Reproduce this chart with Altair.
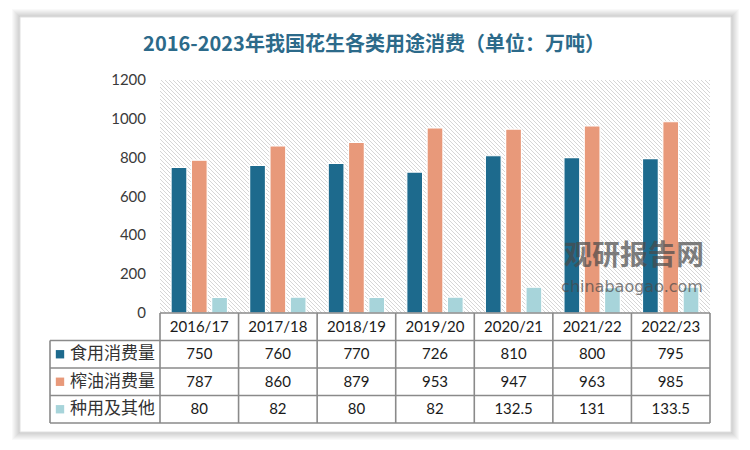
import altair as alt
import pandas as pd
import numpy as np

# ---- data ----
cats = ["2016/17", "2017/18", "2018/19", "2019/20", "2020/21", "2021/22", "2022/23"]
series = ["食用消费量", "榨油消费量", "种用及其他"]
food = [750, 760, 770, 726, 810, 800, 795]
oil = [787, 860, 879, 953, 947, 963, 985]
seed = [80, 82, 80, 82, 132.5, 131, 133.5]
colors = ["#1d6a8d", "#e8997a", "#a7d4da"]
y_ticks = [0, 200, 400, 600, 800, 1000, 1200]
title_text = "2016-2023年我国花生各类用途消费（单位：万吨）"

# ---- layout constants (pixels, relative to plot origin) ----
W, H_BAR, H_TAB = 550, 233, 110
H = H_BAR + H_TAB
LABEL_W = 110

rows = []
for si, (s, vals) in enumerate(zip(series, [food, oil, seed])):
    for c, v in zip(cats, vals):
        rows.append({"cat": c, "series": s, "value": v, "row": si + 1.5,
                     "label": f"{v:g}"})
df = pd.DataFrame(rows)

x_enc = alt.X("cat:N", sort=cats, axis=None,
              scale=alt.Scale(paddingInner=0, paddingOuter=0))
y_bar = alt.Scale(domain=[0, 1200], range=[H_BAR, 0])
y_tab = alt.Scale(domain=[0, 4], range=[H_BAR, H])
color_enc = alt.Color("series:N", scale=alt.Scale(domain=series, range=colors), legend=None)

# card with soft shadow
cx0, cx1, cy0, cy1 = -140, 571, -63, 352
shadow = pd.DataFrame([{"x": cx0 - k, "x2": cx1 + k, "y": cy0 - k, "y2": cy1 + k}
                       for k in range(1, 9)])
shadow_layer = alt.Chart(shadow).mark_rect(fill="#000000", opacity=0.025).encode(
    x=alt.X("x:Q", scale=None), x2="x2:Q",
    y=alt.Y("y:Q", scale=None), y2="y2:Q")
card = alt.Chart(pd.DataFrame([{"x": cx0, "x2": cx1, "y": cy0, "y2": cy1}])).mark_rect(
    fill="white", stroke="#e0e0e0", strokeWidth=1).encode(
    x=alt.X("x:Q", scale=None), x2="x2:Q",
    y=alt.Y("y:Q", scale=None), y2="y2:Q")

# hatched background of the plot area (diagonal "\" lines, clipped to rect)
hl = []
for c in np.arange(-H_BAR + 2, W, 4):
    if c >= 0:
        xs, ys = c, 0
    else:
        xs, ys = 0, -c
    if c + H_BAR <= W:
        xe, ye = c + H_BAR, H_BAR
    else:
        xe, ye = W, W - c
    hl.append({"x": xs, "y": ys, "x2": xe, "y2": ye})
hatch = alt.Chart(pd.DataFrame(hl)).mark_rule(color="#d6d6d6", strokeWidth=1).encode(
    x=alt.X("x:Q", scale=None), x2="x2:Q",
    y=alt.Y("y:Q", scale=None), y2="y2:Q")

bars = alt.Chart(df).mark_bar(stroke="white", strokeWidth=1.2).encode(
    x=x_enc,
    xOffset=alt.XOffset("series:N", sort=series,
                        scale=alt.Scale(paddingInner=0.22, paddingOuter=0.545)),
    y=alt.Y("value:Q", scale=y_bar, axis=None),
    color=color_enc,
)

# y tick labels
ylab = alt.Chart(pd.DataFrame({"v": y_ticks})).mark_text(
    font="Lato", fontSize=15, color="#3a3a3a", align="right", baseline="middle").encode(
    x=alt.value(-14), y=alt.Y("v:Q", scale=y_bar, axis=None), text="v:Q")

# table grid
hrules = pd.DataFrame([{"yv": 0, "xs": 0, "xe": W}] +
                      [{"yv": r, "xs": -LABEL_W, "xe": W} for r in range(1, 5)])
hgrid = alt.Chart(hrules).mark_rule(color="#8a8a8a", strokeWidth=1.6).encode(
    x=alt.X("xs:Q", scale=None), x2="xe:Q",
    y=alt.Y("yv:Q", scale=y_tab, axis=None))
vdf = pd.DataFrame({"cat": cats, "y0": 0, "y1": 4})
vgrid = alt.Chart(vdf).mark_rule(color="#8a8a8a", strokeWidth=1.6).encode(
    x=alt.X("cat:N", sort=cats, axis=None, bandPosition=0,
            scale=alt.Scale(paddingInner=0, paddingOuter=0)),
    y=alt.Y("y0:Q", scale=y_tab, axis=None), y2="y1:Q")
vlast = alt.Chart(vdf.tail(1)).mark_rule(color="#8a8a8a", strokeWidth=1.6).encode(
    x=alt.X("cat:N", sort=cats, axis=None, bandPosition=1,
            scale=alt.Scale(paddingInner=0, paddingOuter=0)),
    y=alt.Y("y0:Q", scale=y_tab, axis=None), y2="y1:Q")
vleft = alt.Chart(pd.DataFrame([{"x": -LABEL_W, "y0": 1, "y1": 4}])).mark_rule(
    color="#8a8a8a", strokeWidth=1.6).encode(
    x=alt.X("x:Q", scale=None),
    y=alt.Y("y0:Q", scale=y_tab, axis=None), y2="y1:Q")

header = alt.Chart(pd.DataFrame({"cat": cats, "row": 0.5})).mark_text(
    font="Lato", fontSize=15, color="#1a1a1a").encode(
    x=x_enc, y=alt.Y("row:Q", scale=y_tab, axis=None), text="cat:N")
cells = alt.Chart(df).mark_text(font="Lato", fontSize=15, color="#1a1a1a").encode(
    x=x_enc, y=alt.Y("row:Q", scale=y_tab, axis=None), text="label:N")

sdf = pd.DataFrame({"series": series, "row": [1.5, 2.5, 3.5]})
squares = alt.Chart(sdf).mark_point(shape="square", filled=True, size=70, opacity=1).encode(
    x=alt.value(-100), y=alt.Y("row:Q", scale=y_tab, axis=None), color=color_enc)
rowlabels = alt.Chart(sdf).mark_text(
    font="Noto Sans CJK SC", fontSize=17, color="#333333", align="left").encode(
    x=alt.value(-90), y=alt.Y("row:Q", scale=y_tab, axis=None), text="series:N")

title = alt.Chart(pd.DataFrame({"t": [title_text]})).mark_text(
    font="Noto Sans CJK SC", fontSize=20, fontWeight="bold", color="#2c6a8a",
    baseline="middle").encode(x=alt.value(214), y=alt.value(-35), text="t:N")

wm1 = alt.Chart(pd.DataFrame({"t": ["观研报告网"]})).mark_text(
    font="Noto Sans CJK SC", fontSize=28, fontWeight="bold", color="#4a4a4a",
    opacity=0.7).encode(x=alt.value(474), y=alt.value(177), text="t:N")
wm2 = alt.Chart(pd.DataFrame({"t": ["chinabaogao.com"]})).mark_text(
    font="DejaVu Sans", fontSize=16, color="#4a4a4a",
    opacity=0.7).encode(x=alt.value(472), y=alt.value(207), text="t:N")

chart = alt.layer(
    shadow_layer, card, hatch, bars, ylab, hgrid, vgrid, vlast, vleft,
    header, cells, squares, rowlabels, title, wm1, wm2
).resolve_scale(y="independent").properties(
    width=W, height=H,
    padding={"left": 160, "top": 80, "right": 40, "bottom": 27},
    autosize=alt.AutoSizeParams(type="none"),
    background="white",
).configure_view(stroke=None)

chart.save("out.html", embed_options={"renderer": "svg", "actions": False})
